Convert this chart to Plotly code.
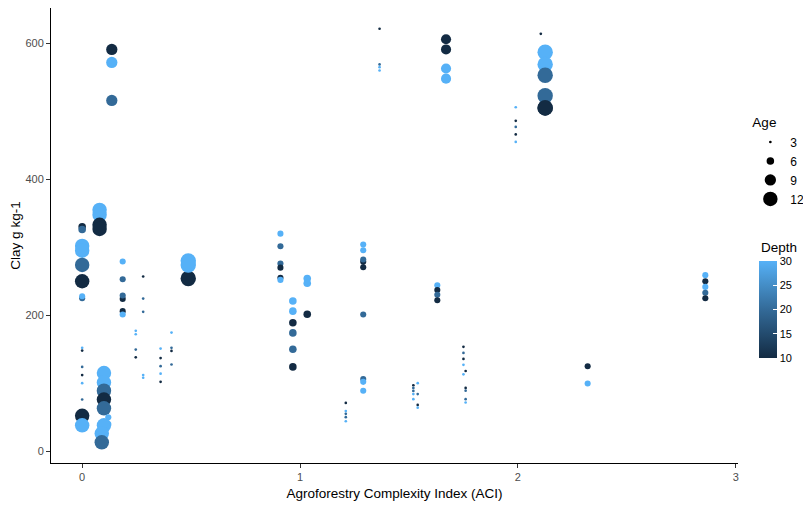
import plotly.graph_objects as go
import numpy as np

# ---- data ----
aci = [0, 0, 0, 0, 0, 0, 0, 0, 0, 0, 0, 0, 0, 0, 0, 0,
       0.08, 0.08, 0.08, 0.08,
       0.10, 0.10, 0.10, 0.10, 0.10, 0.12, 0.12, 0.10, 0.09, 0.09,
       0.136, 0.136, 0.136,
       0.186, 0.186, 0.186, 0.186, 0.186, 0.186,
       0.246, 0.246, 0.246, 0.246,
       0.28, 0.28, 0.28, 0.28, 0.28,
       0.36, 0.36, 0.36, 0.36, 0.36,
       0.41, 0.41, 0.41, 0.41,
       0.487, 0.487, 0.487,
       0.91, 0.91, 0.91, 0.91, 0.91, 0.91,
       0.967, 0.967, 0.967, 0.967, 0.967, 0.967,
       1.033, 1.033, 1.033,
       1.21, 1.21, 1.21, 1.21, 1.21,
       1.29, 1.29, 1.29, 1.29, 1.29, 1.29, 1.29, 1.29, 1.29,
       1.365, 1.365, 1.365, 1.365,
       1.52, 1.52, 1.52, 1.52, 1.52, 1.54, 1.54, 1.54, 1.54,
       1.63, 1.63, 1.63, 1.63,
       1.67, 1.67, 1.67, 1.67,
       1.75, 1.75, 1.75, 1.75, 1.75, 1.76, 1.76, 1.76, 1.76, 1.76,
       1.99, 1.99, 1.99, 1.99, 1.99,
       2.105,
       2.125, 2.125, 2.125, 2.125, 2.125, 2.125,
       2.32, 2.32,
       2.86, 2.86, 2.86, 2.86, 2.86]
clay = [330, 326, 302, 295, 274, 250, 225, 228, 148, 152, 124, 112, 100, 76, 52, 38,
        355, 348, 333, 327,
        115, 101, 89, 76, 63, 50, 40, 38, 26, 13,
        591, 572, 516,
        279, 253, 224, 229, 206, 201,
        177, 172, 149.5, 138,
        257, 224.5, 205, 112, 108,
        151, 137, 125, 114, 102,
        174.5, 152, 147.5, 127.5,
        254, 274, 280,
        320, 301.5, 276, 270, 255, 252,
        221, 206, 189, 174, 150, 124,
        254, 247, 201.5,
        71, 59, 55, 50, 44,
        304, 295.5, 278.5, 282, 270.5, 201, 106, 102, 89,
        621.5, 569, 565, 560,
        97, 93, 88.7, 84, 76.5, 100, 84, 68, 64,
        244, 237, 230, 222,
        606, 591, 563, 548,
        153.5, 144.5, 135.7, 127, 113, 118, 93, 89, 76.5, 71.6,
        506, 486, 477, 466, 455,
        614,
        587, 569, 553, 523, 505, 505,
        125, 99.5,
        259, 250, 241.7, 233, 225]
age = [6, 6, 12, 12, 12, 12, 5, 5, 3, 3, 3, 3, 3, 3, 12, 12,
       12, 12, 12, 12,
       12, 12, 12, 12, 12, 5, 5, 12, 12, 12,
       9, 9, 9,
       5, 5, 5, 5, 5, 5,
       3, 3, 3, 3,
       3, 3, 3, 3, 3,
       3, 3, 3, 3, 3,
       3, 3, 3, 3,
       13, 13, 13,
       5, 5, 5, 5, 5, 5,
       6, 6, 6, 6, 6, 6,
       6, 6, 6,
       3, 3, 3, 3, 3,
       5, 5, 5, 5, 5, 5, 5, 5, 5,
       3, 3, 3, 3,
       3, 3, 3, 3, 3, 3, 3, 3, 3,
       5, 5, 5, 5,
       8, 8, 8, 8,
       3, 3, 3, 3, 3, 3, 3, 3, 3, 3,
       3, 3, 3, 3, 3,
       3,
       13, 13, 13, 13, 13, 13,
       5, 5,
       5, 5, 5, 5, 5]
depth = [10, 20, 30, 30, 20, 10, 20, 30, 10, 30, 20, 10, 30, 20, 10, 30,
         30, 30, 10, 10,
         30, 30, 20, 10, 20, 30, 30, 30, 30, 20,
         10, 30, 20,
         30, 20, 10, 20, 10, 30,
         30, 30, 20, 10,
         10, 20, 20, 30, 30,
         30, 10, 20, 30, 10,
         30, 20, 10, 20,
         10, 30, 30,
         30, 20, 20, 10, 10, 30,
         30, 30, 10, 20, 20, 10,
         30, 30, 10,
         10, 30, 20, 20, 30,
         30, 30, 10, 20, 10, 20, 20, 30, 30,
         10, 20, 30, 30,
         10, 20, 20, 30, 30, 30, 20, 10, 30,
         30, 10, 20, 10,
         10, 10, 30, 30,
         10, 20, 10, 30, 30, 10, 10, 20, 20, 30,
         30, 10, 20, 10, 30,
         10,
         30, 30, 20, 20, 10, 10,
         10, 30,
         30, 10, 30, 20, 10]

age_breaks = [3, 6, 9, 12]
depth_ticks = [10, 15, 20, 25, 30]


def age_to_px(a):
    a = np.asarray(a, dtype=float)
    return np.clip(-9.1 + 6.8 * np.sqrt(a), 2.5, None)


colorscale = [[0.0, "#132B43"], [0.25, "#234B6E"], [0.5, "#336A98"],
              [0.75, "#448DC6"], [1.0, "#56B1F7"]]

fig = go.Figure()
fig.add_trace(go.Scatter(
    x=aci, y=clay, mode="markers", showlegend=False,
    marker=dict(
        size=age_to_px(age), color=depth, colorscale=colorscale,
        cmin=10, cmax=30, opacity=1, line=dict(width=0),
        colorbar=dict(
            tickvals=depth_ticks, ticktext=[str(t) for t in depth_ticks],
            tickfont=dict(size=11, color="#000000"),
            ticks="inside", tickcolor="white", ticklen=4,
            thickness=18, thicknessmode="pixels",
            len=97, lenmode="pixels",
            x=1.031, xanchor="left", xpad=0,
            y=0.2308, yanchor="bottom", ypad=0,
            outlinewidth=0,
        ),
    ),
))

for a in age_breaks:
    fig.add_trace(go.Scatter(
        x=[None], y=[None], mode="markers", name=str(a),
        marker=dict(size=float(age_to_px([a])[0]), color="black", line=dict(width=0)),
    ))

fig.add_annotation(
    text="Depth", xref="paper", yref="paper", x=1.031, y=0.4747,
    xanchor="left", yanchor="middle", showarrow=False,
    font=dict(size=13.5, color="#000000"),
)

fig.update_layout(
    width=803, height=505,
    margin=dict(l=51, r=65, t=8, b=42, autoexpand=False),
    paper_bgcolor="white", plot_bgcolor="white",
    font=dict(family="Liberation Sans, Arial, sans-serif", color="#000000"),
    legend=dict(
        title=dict(text="Age", font=dict(size=13.5)),
        font=dict(size=12), x=1.018, xanchor="left", y=0.776, yanchor="top",
        itemsizing="trace", tracegroupgap=0, bgcolor="rgba(0,0,0,0)",
    ),
    xaxis=dict(
        range=[-0.143, 3.01], tickvals=[0, 1, 2, 3],
        showgrid=False, zeroline=False, showline=True, linecolor="black", linewidth=1,
        ticks="outside", ticklen=4, tickcolor="#333333",
        tickfont=dict(size=11, color="#4D4D4D"),
        title=dict(text="Agroforestry Complexity Index (ACI)", font=dict(size=13.5), standoff=6),
    ),
    yaxis=dict(
        range=[-17.4, 652], tickvals=[0, 200, 400, 600],
        showgrid=False, zeroline=False, showline=True, linecolor="black", linewidth=1,
        ticks="outside", ticklen=4, tickcolor="#333333",
        tickfont=dict(size=11, color="#4D4D4D"),
        title=dict(text="Clay g kg-1", font=dict(size=13.5), standoff=1),
    ),
)

fig.write_html("out.html")
